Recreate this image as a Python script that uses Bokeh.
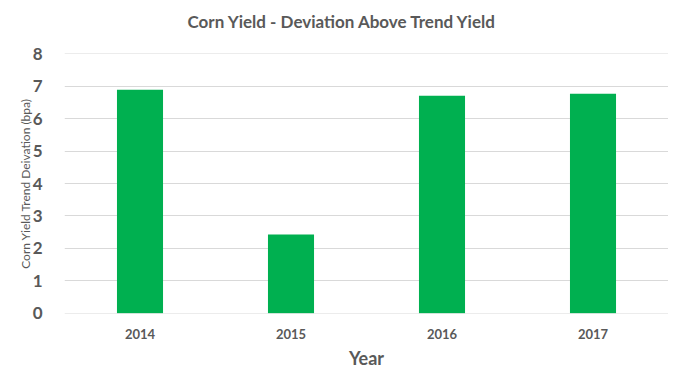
from bokeh.plotting import figure
from bokeh.models import Range1d, FactorRange, ColumnDataSource, Title
from bokeh.embed import file_html
from bokeh.resources import INLINE

# Data
years = ["2014", "2015", "2016", "2017"]
deviation = [6.89, 2.43, 6.71, 6.77]
y_ticks = [0, 1, 2, 3, 4, 5, 6, 7, 8]

title_text = "Corn Yield - Deviation Above Trend Yield"
x_label = "Year"
y_label = "Corn Yield Trend Deivation (bpa)"

TEXT = "#595959"
GRID = "#D9D9D9"
GREEN = "#00B050"
FONT = "Lato"

source = ColumnDataSource(data=dict(years=years, deviation=deviation))

p = figure(
    x_range=FactorRange(factors=years, range_padding=0),
    y_range=Range1d(-0.01, 8.01),
    width=668, height=374,
    output_backend="svg", toolbar_location=None,
    min_border_left=64, min_border_right=0,
    min_border_top=53, min_border_bottom=61,
)

p.vbar(x="years", top="deviation", width=0.305, source=source,
       fill_color=GREEN, line_color=None)

p.outline_line_color = None
p.xgrid.grid_line_color = None
p.ygrid.grid_line_color = GRID
p.ygrid.grid_line_width = 1
p.yaxis.ticker = y_ticks

for ax in (p.xaxis[0], p.yaxis[0]):
    ax.axis_line_color = None
    ax.major_tick_line_color = None
    ax.minor_tick_line_color = None
    ax.major_label_text_color = TEXT
    ax.major_label_text_font = FONT
    ax.major_label_text_font_style = "bold"
    ax.axis_label_text_color = TEXT
    ax.axis_label_text_font = FONT

p.yaxis.major_label_text_font_size = "17px"
p.yaxis.major_label_standoff = 16
p.yaxis.axis_label = y_label
p.yaxis.axis_label_text_font_size = "12px"
p.yaxis.axis_label_text_font_style = "normal"
p.yaxis.axis_label_standoff = -3

p.xaxis.major_label_text_font_size = "13px"
p.xaxis.major_label_standoff = 9
p.xaxis.axis_label = x_label
p.xaxis.axis_label_text_font_size = "18px"
p.xaxis.axis_label_text_font_style = "bold"
p.xaxis.axis_label_standoff = 5

# empty spacer panel between the title and the plot area
p.add_layout(Title(text=" ", text_font_size="7px", standoff=0), "above")

p.title = Title(text=title_text, align="left", offset=123, standoff=21,
                vertical_align="top",
                text_font=FONT, text_font_size="17px", text_font_style="bold",
                text_color=TEXT)

open("out.html", "w").write(file_html(p, INLINE))
